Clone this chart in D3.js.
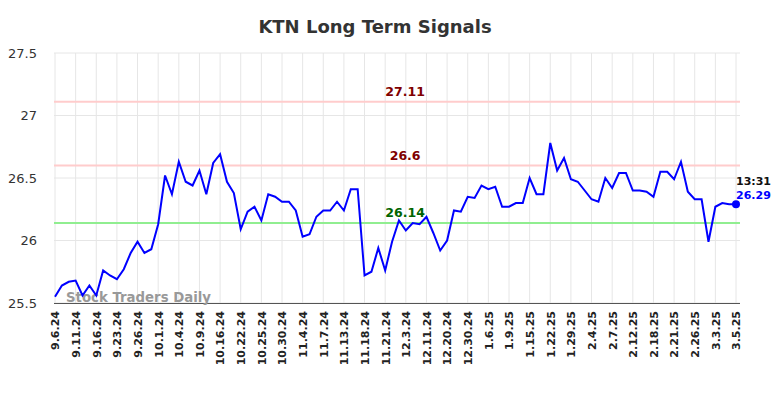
<!DOCTYPE html>
<html>
<head>
<meta charset="utf-8">
<script src="https://cdn.jsdelivr.net/npm/d3@7"></script>
<style>
  body { margin: 0; background: #fff; }
  svg { font-family: "DejaVu Sans", sans-serif; }
</style>
</head>
<body>
<div class="chart"></div>
<script>
// closing prices, one per session
const prices = [
  25.55, 25.64, 25.67, 25.68, 25.56, 25.64, 25.56, 25.76, 25.72, 25.69,
  25.77, 25.90, 25.99, 25.90, 25.93, 26.13, 26.52, 26.37, 26.63, 26.47,
  26.44, 26.56, 26.37, 26.62, 26.69, 26.47, 26.38, 26.09, 26.23, 26.27,
  26.16, 26.37, 26.35, 26.31, 26.31, 26.24, 26.03, 26.05, 26.19, 26.24,
  26.24, 26.31, 26.24, 26.41, 26.41, 25.72, 25.75, 25.94, 25.76, 25.99,
  26.16, 26.08, 26.14, 26.13, 26.19, 26.06, 25.92, 26.00, 26.24, 26.23,
  26.35, 26.34, 26.44, 26.41, 26.43, 26.27, 26.27, 26.30, 26.30, 26.50,
  26.37, 26.37, 26.78, 26.56, 26.66, 26.49, 26.47, 26.40, 26.33, 26.31,
  26.50, 26.42, 26.54, 26.54, 26.40, 26.40, 26.39, 26.35, 26.55, 26.55,
  26.49, 26.63, 26.39, 26.33, 26.33, 25.99, 26.27, 26.30, 26.29, 26.29
];
// date labels shown every third session
const tickLabels = [
  "9.6.24", "9.11.24", "9.16.24", "9.23.24", "9.26.24", "10.1.24", "10.4.24",
  "10.9.24", "10.16.24", "10.22.24", "10.25.24", "10.30.24", "11.4.24", "11.7.24",
  "11.13.24", "11.18.24", "11.21.24", "12.3.24", "12.11.24", "12.20.24", "12.30.24",
  "1.6.25", "1.9.25", "1.15.25", "1.22.25", "1.29.25", "2.4.25", "2.7.25",
  "2.12.25", "2.18.25", "2.21.25", "2.26.25", "3.3.25", "3.5.25"
];
const yTicks = [25.5, 26, 26.5, 27, 27.5];
const signalLevels = [27.11, 26.6];
const supportLevels = [26.14];
const lastTime = "13:31";

const width = 784, height = 398;
const margin = { top: 53, right: 44, bottom: 95, left: 54 };
const w = width - margin.left - margin.right;
const h = height - margin.top - margin.bottom;

const svg = d3.select(".chart").append("svg")
  .attr("width", width)
  .attr("height", height);

svg.append("text")
  .attr("x", 375)
  .attr("y", 33)
  .attr("text-anchor", "middle")
  .attr("fill", "#333")
  .style("font-size", "18px")
  .style("font-weight", "bold")
  .text("KTN Long Term Signals");

const g = svg.append("g").attr("transform", `translate(${margin.left},${margin.top})`);

const x = d3.scaleLinear().domain([0, prices.length - 1]).range([1, w - 4]);
const y = d3.scaleLinear().domain([25.5, 27.5]).range([h, 0]);

const tickIdx = tickLabels.map((d, i) => i * 3);

// grid
g.append("g").selectAll("line").data(tickIdx).join("line")
  .attr("x1", d => x(d)).attr("x2", d => x(d))
  .attr("y1", 0).attr("y2", h)
  .attr("stroke", "#e6e6e6");
g.append("g").selectAll("line").data(yTicks).join("line")
  .attr("x1", 0).attr("x2", w)
  .attr("y1", d => y(d)).attr("y2", d => y(d))
  .attr("stroke", "#e6e6e6");

// y axis labels
const yAxis = d3.axisLeft(y).tickValues(yTicks).tickSize(0).tickPadding(17).tickFormat(d3.format("~g"));
g.append("g").call(yAxis)
  .call(a => a.select(".domain").remove())
  .selectAll("text")
  .attr("fill", "#333")
  .style("font-size", "13px")
  .style("font-family", "DejaVu Sans, sans-serif");

// x axis
const xAxis = d3.axisBottom(x).tickValues(tickIdx).tickSize(0).tickFormat((d, i) => tickLabels[i]);
g.append("g")
  .attr("transform", `translate(0,${h})`)
  .call(xAxis)
  .call(a => a.select(".domain").attr("stroke", "#555").attr("d", `M0,0.5H${w}`))
  .selectAll("text")
  .attr("transform", "rotate(-90)")
  .attr("text-anchor", "end")
  .attr("x", -8)
  .attr("y", 0)
  .attr("dy", "0.35em")
  .attr("fill", "#222")
  .style("font-size", "11px")
  .style("font-weight", "bold")
  .style("font-family", "DejaVu Sans, sans-serif");

// watermark
g.append("text")
  .attr("x", 12)
  .attr("y", h - 1)
  .attr("fill", "#999")
  .style("font-size", "13.3px")
  .style("font-weight", "bold")
  .text("Stock Traders Daily");

// signal lines
const labelX = x(50.9);
g.append("g").selectAll("line").data(signalLevels).join("line")
  .attr("x1", 0).attr("x2", w)
  .attr("y1", d => y(d)).attr("y2", d => y(d))
  .attr("stroke", "#ffcccc").attr("stroke-width", 2);
g.append("g").selectAll("text").data(signalLevels).join("text")
  .attr("x", labelX).attr("y", d => y(d) - 6)
  .attr("text-anchor", "middle")
  .attr("fill", "#800000")
  .style("font-size", "12.5px").style("font-weight", "bold")
  .text(d => d);
g.append("g").selectAll("line").data(supportLevels).join("line")
  .attr("x1", 0).attr("x2", w)
  .attr("y1", d => y(d)).attr("y2", d => y(d))
  .attr("stroke", "#90ee90").attr("stroke-width", 2);
g.append("g").selectAll("text").data(supportLevels).join("text")
  .attr("x", labelX).attr("y", d => y(d) - 6)
  .attr("text-anchor", "middle")
  .attr("fill", "#006400")
  .style("font-size", "12.5px").style("font-weight", "bold")
  .text(d => d);

// price line
const line = d3.line().x((d, i) => x(i)).y(d => y(d));
g.append("path")
  .datum(prices)
  .attr("d", line)
  .attr("fill", "none")
  .attr("stroke", "#0000ff")
  .attr("stroke-width", 2);

const lastI = prices.length - 1;
g.append("circle")
  .attr("cx", x(lastI)).attr("cy", y(prices[lastI]))
  .attr("r", 4).attr("fill", "#0000ff");
g.append("text")
  .attr("x", x(lastI)).attr("y", y(prices[lastI]) - 19)
  .attr("fill", "#111")
  .style("font-size", "11px").style("font-weight", "bold")
  .text(lastTime);
g.append("text")
  .attr("x", x(lastI)).attr("y", y(prices[lastI]) - 5)
  .attr("fill", "#0000ff")
  .style("font-size", "11px").style("font-weight", "bold")
  .text(prices[lastI]);
</script>
</body>
</html>
